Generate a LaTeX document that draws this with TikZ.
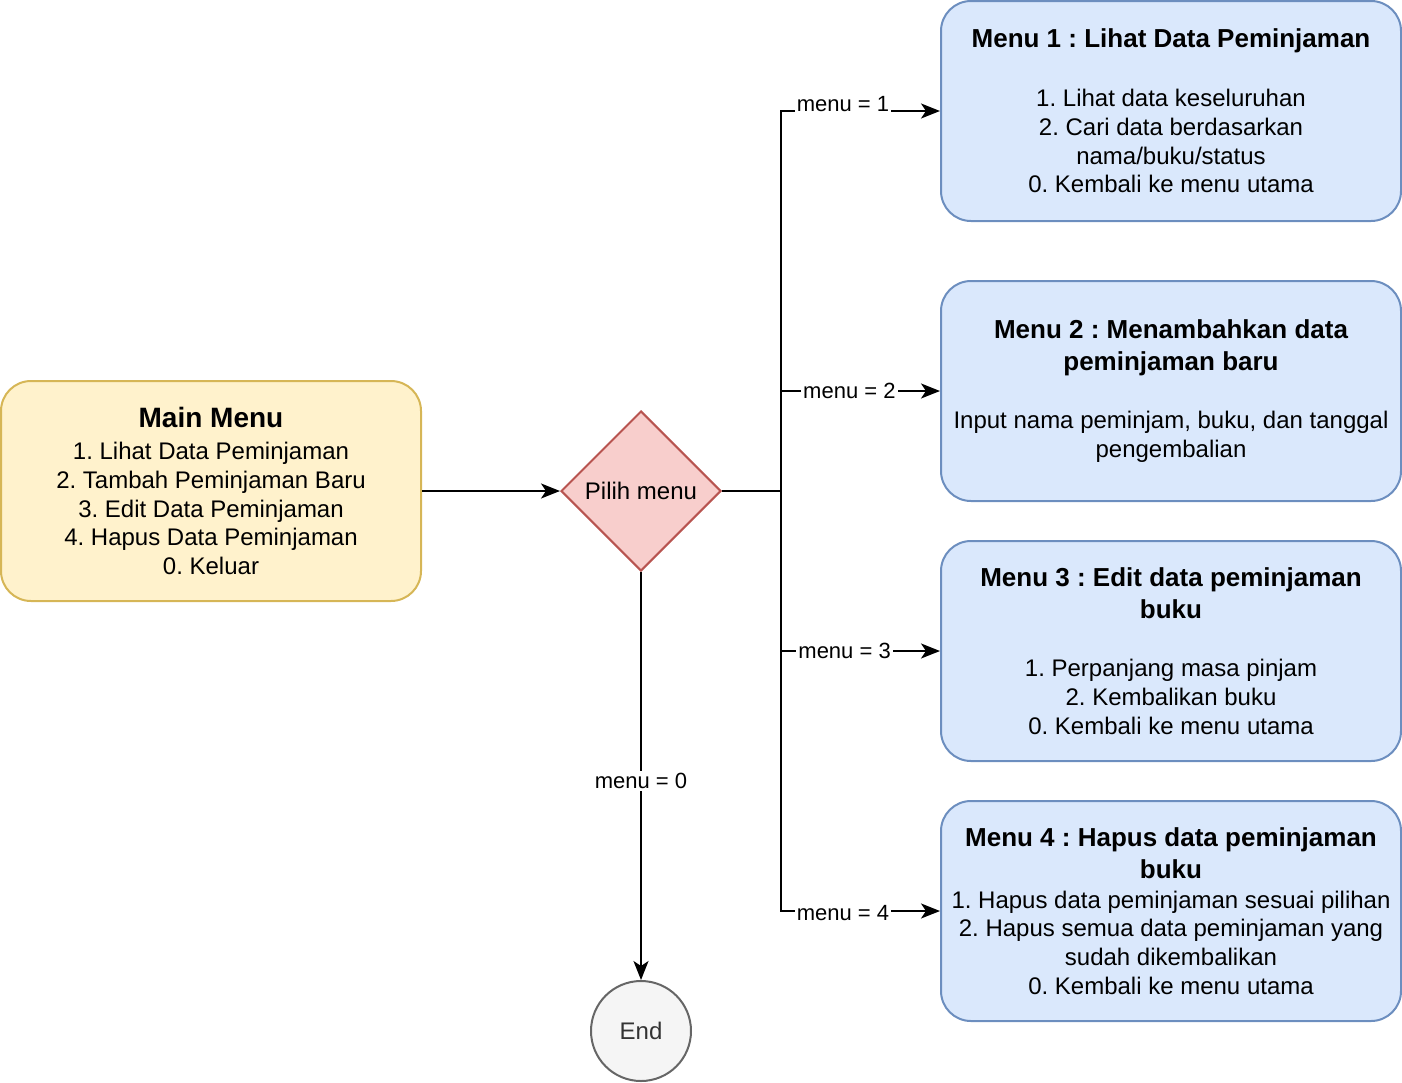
\documentclass[tikz,border=0pt]{standalone}
\usepackage{fontspec}
\setmainfont{Liberation Sans}
\usetikzlibrary{shapes.geometric,arrows.meta}
\definecolor{yfill}{HTML}{FFF2CC}
\definecolor{yline}{HTML}{D6B656}
\definecolor{bfill}{HTML}{DAE8FC}
\definecolor{bline}{HTML}{6C8EBF}
\definecolor{rfill}{HTML}{F8CECC}
\definecolor{rline}{HTML}{B85450}
\definecolor{gfill}{HTML}{F5F5F5}
\definecolor{gline}{HTML}{666666}
\definecolor{gtext}{HTML}{333333}
\newcommand{\ttl}[1]{{\fontsize{13}{15.6}\selectfont\bfseries #1}}
\begin{document}
\frenchspacing
\begin{tikzpicture}[x=0.5pt,y=-0.5pt,
  box/.style={draw, line width=1pt, rounded corners=15pt, align=center, inner sep=2pt,
    font=\fontsize{12}{14.4}\selectfont\frenchspacing},
  mainbox/.style={box, fill=yfill, draw=yline, minimum width=210pt, minimum height=110pt},
  menubox/.style={box, fill=bfill, draw=bline, minimum width=230pt, minimum height=110pt},
  dec/.style={diamond, aspect=1, draw=rline, fill=rfill, line width=1pt, minimum size=80pt,
    inner sep=0pt, font=\fontsize{12}{14.4}\selectfont},
  term/.style={circle, draw=gline, fill=gfill, line width=1pt, minimum size=50pt,
    inner sep=0pt, text=gtext, font=\fontsize{12}{14.4}\selectfont},
  edge/.style={line width=1pt},
  arr/.style={edge, -{Stealth[length=9.5pt,width=7.5pt,inset=2.5pt]}},
  lbl/.style={fill=white, inner sep=1pt, font=\fontsize{11}{13}\selectfont}
]
\useasboundingbox (0,0) rectangle (1402,1082);

\node[mainbox] (main) at (211,491) {{\fontsize{14}{16.8}\selectfont\bfseries Main Menu}\\[1.6pt]
  1. Lihat Data Peminjaman\\ 2. Tambah Peminjaman Baru\\ 3. Edit Data Peminjaman\\
  4. Hapus Data Peminjaman\\ 0. Keluar};
\node[dec] (pilih) at (641,491) {Pilih menu};
\node[term] (end) at (641,1031) {End};

\node[menubox] (m1) at (1171,111) {\ttl{Menu 1 : Lihat Data Peminjaman}\\[15pt]
  1. Lihat data keseluruhan\\ 2. Cari data berdasarkan\\ nama/buku/status\\ 0. Kembali ke menu utama};
\node[menubox] (m2) at (1171,391) {\ttl{Menu 2 : Menambahkan data}\\[1.6pt] \ttl{peminjaman baru}\\[15pt]
  Input nama peminjam, buku, dan tanggal\\ pengembalian};
\node[menubox] (m3) at (1171,651) {\ttl{Menu 3 : Edit data peminjaman}\\[1.6pt] \ttl{buku}\\[15pt]
  1. Perpanjang masa pinjam\\ 2. Kembalikan buku\\ 0. Kembali ke menu utama};
\node[menubox] (m4) at (1171,911) {\ttl{Menu 4 : Hapus data peminjaman}\\[1.6pt] \ttl{buku}\\[0.6pt]
  1. Hapus data peminjaman sesuai pilihan\\ 2. Hapus semua data peminjaman yang\\
  sudah dikembalikan\\ 0. Kembali ke menu utama};

\coordinate (j) at (781,491);
\draw[arr] (main.east) -- (pilih.west);
\draw[edge] (pilih.east) -- (j);
\draw[arr] (j) |- node[lbl,pos=0.695,yshift=3.5pt] {menu = 1} (m1.west);
\draw[arr] (j) |- node[lbl,pos=0.715] {menu = 2} (m2.west);
\draw[arr] (j) |- node[lbl,pos=0.7] {menu = 3} (m3.west);
\draw[arr] (j) |- node[lbl,pos=0.695,yshift=-1pt] {menu = 4} (m4.west);
\draw[arr] (pilih.south) -- node[lbl,pos=0.512] {menu = 0} (end.north);
\end{tikzpicture}
\end{document}
